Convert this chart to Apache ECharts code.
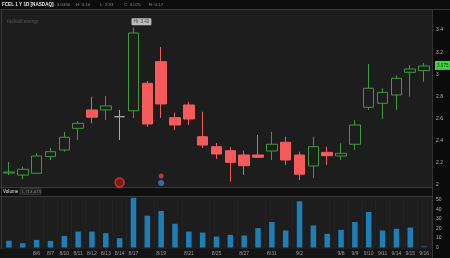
<!DOCTYPE html>
<html><head><meta charset="utf-8">
<script src="https://cdn.jsdelivr.net/npm/echarts@6/dist/echarts.min.js"></script>
<style>html,body{margin:0;padding:0;background:#1c1c1c}#c{width:450px;height:258px}</style>
</head><body><div id="c"></div>
<script>
const dates = ['8/4','8/5','8/6','8/7','8/10','8/11','8/12','8/13','8/14','8/17','8/18','8/19','8/20','8/21','8/24','8/25','8/26','8/27','8/28','8/31','9/1','9/2','9/3','9/4','9/8','9/9','9/10','9/11','9/14','9/15','9/16'];
const open  = [2.108,2.090,2.106,2.256,2.316,2.512,2.678,2.678,2.617,2.671,2.919,3.114,2.608,2.723,2.436,2.346,2.310,2.271,2.271,2.307,2.386,2.271,2.172,2.295,2.262,2.368,2.702,2.738,2.813,3.018,3.033];
const close = [2.117,2.142,2.262,2.301,2.431,2.557,2.612,2.714,2.617,3.373,2.551,2.732,2.542,2.596,2.361,2.280,2.205,2.174,2.250,2.368,2.226,2.097,2.346,2.265,2.286,2.542,2.874,2.837,2.964,3.048,3.075];
const low   = [2.090,2.051,2.100,2.226,2.301,2.407,2.557,2.587,2.407,2.605,2.524,2.605,2.497,2.542,2.334,2.235,2.030,2.090,2.245,2.226,2.181,2.045,2.061,2.181,2.226,2.316,2.678,2.594,2.678,2.798,2.933];
const high  = [2.208,2.165,2.289,2.334,2.480,2.578,2.798,2.804,2.678,3.420,2.940,3.247,2.653,2.752,2.662,2.379,2.343,2.310,2.452,2.481,2.436,2.301,2.436,2.346,2.377,2.587,3.093,2.874,2.990,3.084,3.102];
const volume = [7.2,4.5,8.0,6.9,12.2,16.8,16.8,15.1,9.8,52.3,33.5,38.5,25.0,16.8,15.7,11.5,13.3,12.6,20.4,26.8,17.9,48.7,23.2,14.4,18.6,26.8,37.4,17.9,19.7,21.0,1.7];
const labelIdx = [2,3,4,5,6,7,8,9,11,13,15,17,19,21,24,25,26,27,28,29,30];
const hiLabel = 'Hi: 3.42';
const markers = [[8,2.023,'#8a1d1d',9],[11,2.081,'#e04040',5],[11,2.018,'#3a7fd0',6]];

const UP='#3c9c3c', DOWN='#f55b5b';
const candleData = dates.map((d,i)=>{
  const v=[open[i],close[i],low[i],high[i]];
  if(open[i]===close[i]) return {value:v,itemStyle:{color:'#aaaaaa',borderColor:'#aaaaaa'}};
  return v;
});
const volData = volume.map((v,i)=> i===volume.length-1 ? {value:v,itemStyle:{color:'#14506e'}} : v);
const last = close[close.length-1];
const hiIdx = high.indexOf(Math.max(...high));

const chart = echarts.init(document.getElementById('c'), null, {renderer:'canvas'});
const bg = (x,y,w,h,fill)=>({type:'rect',z:-100,shape:{x,y,width:w,height:h},style:{fill},silent:true});
const line = (x1,y1,x2,y2,stroke)=>({type:'line',z:-90,shape:{x1,y1,x2,y2},style:{stroke,lineWidth:1},silent:true});
const txt = (x,y,text,fill,fs,fw)=>({type:'text',z:50,x,y,style:{text,fill,font:(fw||'normal')+' '+fs+'px "Liberation Sans", Arial, sans-serif',textVerticalAlign:'middle'},silent:true});

chart.setOption({
  backgroundColor:'#1d1d1d',
  animation:false,
  graphic:[
    bg(0,0,450,9,'#0c0c0c'),
    line(0,9.5,450,9.5,'#3a3a3a'),
    bg(433,10,17,248,'#0b0b0b'),
    line(432.5,10,432.5,258,'#333'),
    bg(0,188,433,8,'#0f0f0f'),
    line(0,187.5,433,187.5,'#3a3a3a'),
    line(0,196.5,433,196.5,'#3a3a3a'),
    bg(0,249,433,9,'#141414'),
    line(1.5,10,1.5,249,'#2c3c3c'),
    txt(2,4.5,'FCEL 1 Y 1D [NASDAQ]','#e8e8e8',4.6,'bold'),
    txt(51,4.5,'O: 3.0350','#8a8a8a',4.4),
    txt(76,4.5,'H: 3.10','#8a8a8a',4.4),
    txt(100,4.5,'L: 2.93','#8a8a8a',4.4),
    txt(124,4.5,'C: 3.075','#8a8a8a',4.4),
    txt(149,4.5,'R: 0.17','#8a8a8a',4.4),
    txt(7,22,'fuelcell energy','#4a4a4a',4.5,'bold'),
    txt(3,191.5,'Volume','#e0e0e0',4.6),
    {type:'rect',z:40,shape:{x:20,y:188.5,width:21,height:6},style:{fill:'#1f1f1f',stroke:'#333'},silent:true},
    txt(21.5,191.5,'1,713,073','#8a8a8a',4.4)
  ],
  grid:[
    {left:2,right:19,top:30,height:155},
    {left:2,right:19,top:200,height:47.5}
  ],
  xAxis:[
    {type:'category',gridIndex:0,data:dates,boundaryGap:true,axisLine:{show:false},axisTick:{show:false},axisLabel:{show:false},splitLine:{show:false}},
    {type:'category',gridIndex:1,data:dates,boundaryGap:true,axisLine:{show:false},axisTick:{show:false},
     axisLabel:{show:true,interval:(i)=>labelIdx.indexOf(i)>=0,color:'#9a9a9a',fontSize:5,margin:3.5,fontFamily:'Liberation Sans'},
     splitLine:{show:true,interval:(i)=>labelIdx.indexOf(i)>=0,lineStyle:{color:'#232323'}}}
  ],
  yAxis:[
    {type:'value',gridIndex:0,position:'right',min:2,max:3.4,interval:0.2,axisLine:{show:false},axisTick:{show:false},
     splitLine:{show:false},axisLabel:{color:'#b0b0b0',fontSize:5,margin:5,fontFamily:'Liberation Sans'}},
    {type:'value',gridIndex:1,position:'right',min:0,max:50,interval:10,axisLine:{show:false},axisTick:{show:false},
     splitLine:{show:false},axisLabel:{color:'#b0b0b0',fontSize:5,margin:5,fontFamily:'Liberation Sans'}}
  ],
  series:[
    {type:'candlestick',xAxisIndex:0,yAxisIndex:0,data:candleData,barWidth:11,clip:false,
     itemStyle:{color:'rgba(0,0,0,0)',color0:DOWN,borderColor:UP,borderColor0:DOWN,borderWidth:1},
     markLine:{symbol:['none','none'],silent:true,lineStyle:{color:'rgba(0,0,0,0)',width:0.1},
       label:{show:true},
       data:[{yAxis:last,label:{show:true,position:'end',distance:4,formatter:last.toFixed(3),color:'#0d3d0d',backgroundColor:'#3fd33f',fontSize:4.6,padding:[2,2,2,2]}}]}
    },
    {type:'scatter',xAxisIndex:0,yAxisIndex:0,clip:false,silent:true,z:5,
     data:markers.map(m=>({value:[m[0],m[1]],symbolSize:m[3],itemStyle:{color:m[2],borderColor:m[3]>8?'#e33':m[2],borderWidth:m[3]>8?1.5:0}}))
       .concat([{value:[hiIdx,high[hiIdx]],symbolSize:1,itemStyle:{color:'rgba(0,0,0,0)'},
         label:{show:true,position:'top',distance:2,offset:[8,0],formatter:hiLabel,color:'#222',backgroundColor:'#e6e6e6',fontSize:4.6,padding:[1,2,1,2],borderRadius:1}}])},
    {type:'bar',xAxisIndex:1,yAxisIndex:1,data:volData,barWidth:5.5,clip:false,itemStyle:{color:'#1d7fb6'}}
  ]
});
</script>
</body></html>
